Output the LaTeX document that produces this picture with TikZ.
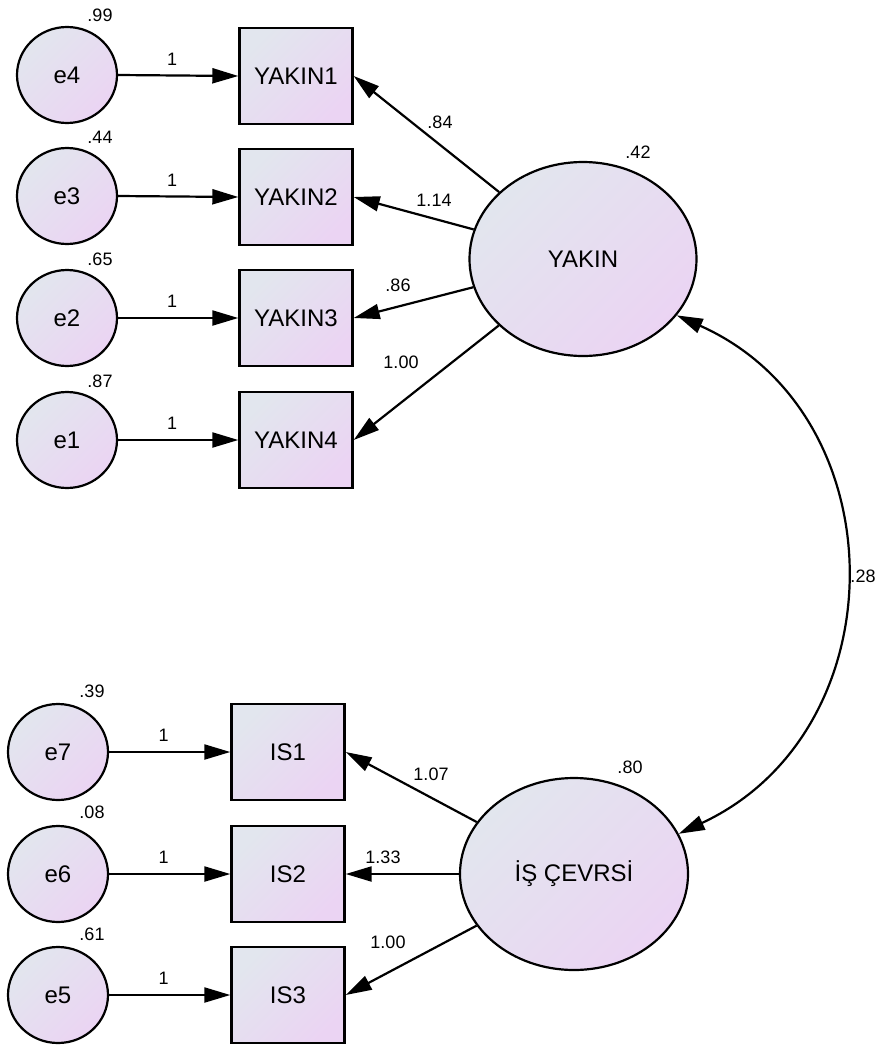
\documentclass[tikz,border=0pt]{standalone}
\usepackage{fontspec}
\setmainfont{Liberation Sans}
\usetikzlibrary{arrows.meta,shapes.geometric}

\definecolor{shadeA}{RGB}{226,230,238}
\definecolor{shadeB}{RGB}{235,212,243}

\tikzset{
  fillgrad/.style={top color=shadeA, bottom color=shadeB, shading angle=45},
  errnode/.style={ellipse, draw, line width=2.2pt, fillgrad,
    minimum width=100pt, minimum height=96pt, inner sep=0pt,
    font=\fontsize{24}{28}\selectfont},
  obsbox/.style={rectangle, draw, line width=2.4pt, fillgrad,
    minimum width=113pt, minimum height=96pt, inner sep=0pt,
    font=\fontsize{24}{28}\selectfont},
  latent/.style={ellipse, draw, line width=2.2pt, fillgrad,
    minimum width=227pt, minimum height=194pt, inner sep=0pt,
    font=\fontsize{24}{28}\selectfont},
  num/.style={inner sep=0pt, font=\fontsize{18}{20}\selectfont},
  arr/.style={line width=2.2pt, -{Triangle[length=26pt,width=15pt]}},
  biarr/.style={line width=2.2pt, {Triangle[length=26pt,width=15pt]}-{Triangle[length=26pt,width=15pt]}},
}

\begin{document}
\begin{tikzpicture}[x=1pt,y=1pt]
\useasboundingbox (0,0) rectangle (882,-1047);

% ---- YAKIN block ----
\node[errnode] (e4) at (67,-75)  {e4};
\node[errnode] (e3) at (67,-196) {e3};
\node[errnode] (e2) at (67,-318) {e2};
\node[errnode] (e1) at (67,-440) {e1};

\node[obsbox] (y1) at (296,-76)  {YAKIN1};
\node[obsbox] (y2) at (296,-197) {YAKIN2};
\node[obsbox] (y3) at (296,-318) {YAKIN3};
\node[obsbox] (y4) at (296,-440) {YAKIN4};

\node[latent] (yakin) at (583,-259) {YAKIN};

\node[num] (v4) at (100,-15)  {.99};
\node[num] (v3) at (100,-137) {.44};
\node[num] (v2) at (100,-259) {.65};
\node[num] (v1) at (100,-381) {.87};
\node[num] (vy) at (638,-152) {.42};

\draw[arr] (e4.east) -- (y1.west) node[num, pos=0.45, above=9pt] (w4) {1};
\draw[arr] (e3.east) -- (y2.west) node[num, pos=0.45, above=9pt] (w3) {1};
\draw[arr] (e2.east) -- (y3.west) node[num, pos=0.45, above=9pt] (w2) {1};
\draw[arr] (e1.east) -- (y4.west) node[num, pos=0.45, above=9pt] (w1) {1};

\draw[arr] (yakin) -- (y1.east);
\draw[arr] (yakin) -- (y2.east);
\draw[arr] (yakin) -- (y3.east);
\draw[arr] (yakin) -- (y4.east);

\node[num] (l1) at (440,-122) {.84};
\node[num] (l2) at (434,-200) {1.14};
\node[num] (l3) at (398,-285) {.86};
\node[num] (l4) at (401,-362) {1.00};

% ---- IS block ----
\node[errnode] (e7) at (58,-752) {e7};
\node[errnode] (e6) at (58,-874) {e6};
\node[errnode] (e5) at (58,-995) {e5};

\node[obsbox] (s1) at (288,-752) {IS1};
\node[obsbox] (s2) at (288,-874) {IS2};
\node[obsbox] (s3) at (288,-995) {IS3};

\node[latent, minimum height=192pt, minimum width=228pt] (is) at (574,-874) {İŞ ÇEVRSİ};

\node[num] (v7) at (92,-691) {.39};
\node[num] (v6) at (92,-812) {.08};
\node[num] (v5) at (92,-934) {.61};
\node[num] (vi) at (630,-767) {.80};

\draw[arr] (e7.east) -- (s1.west) node[num, pos=0.45, above=9pt] (w7) {1};
\draw[arr] (e6.east) -- (s2.west) node[num, pos=0.45, above=9pt] (w6) {1};
\draw[arr] (e5.east) -- (s3.west) node[num, pos=0.45, above=9pt] (w5) {1};

\draw[arr] (is) -- (s1.east);
\draw[arr] (is) -- (s2.east);
\draw[arr] (is) -- (s3.east);

\node[num] (m1) at (431,-774) {1.07};
\node[num] (m2) at (383,-857) {1.33};
\node[num] (m3) at (388,-942) {1.00};

% ---- covariance ----
\draw[biarr] (yakin.-31.5) to[out=-24, in=25, looseness=1.2] (is.21);
\node[num] (cov) at (863,-576) {.28};

\end{tikzpicture}
\end{document}
